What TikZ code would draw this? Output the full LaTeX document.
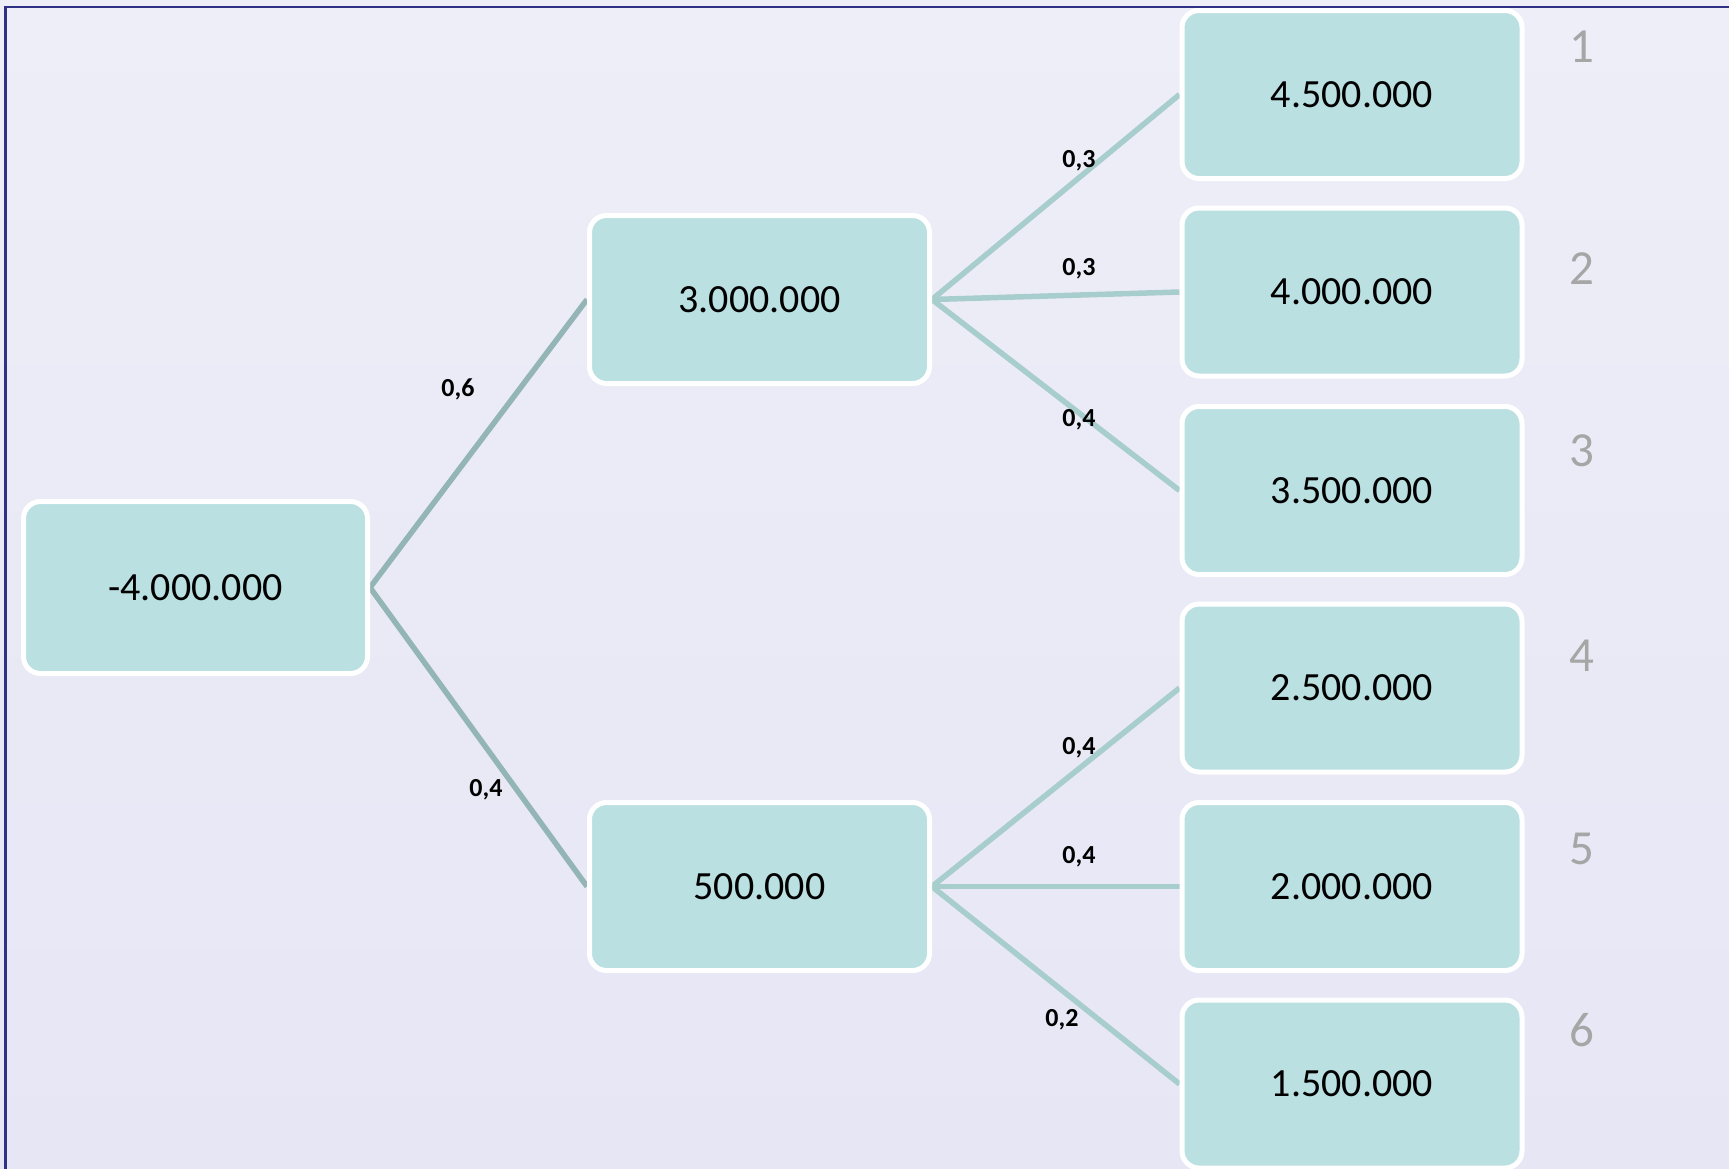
\documentclass[tikz,border=0pt]{standalone}
\usepackage{fontspec}
\setmainfont{Carlito}
\definecolor{boxfill}{HTML}{BAE0E2}
\definecolor{rootline}{HTML}{93B5B6}
\definecolor{branchline}{HTML}{A8CDCD}
\definecolor{numgray}{HTML}{A6A6A6}
\definecolor{framecol}{HTML}{2E3184}
\definecolor{bgtop}{HTML}{EEEEF8}
\definecolor{bgbot}{HTML}{E6E6F5}
\pgfdeclarelayer{bglayer}
\pgfdeclarelayer{linelayer}
\pgfsetlayers{bglayer,linelayer,main}
\begin{document}
\begin{tikzpicture}[x=1pt,y=-1pt,
  box/.style={draw=white, line width=5pt, fill=boxfill, rounded corners=17pt,
    minimum width=340pt, minimum height=168pt, inner sep=0pt,
    font=\fontsize{40}{48}\selectfont, text=black},
  rootbox/.style={box, minimum width=344pt, minimum height=172pt},
  lbl/.style={font=\bfseries\fontsize{26}{31}\selectfont, text=black, inner sep=0pt},
  num/.style={font=\fontsize{49}{58}\selectfont, text=numgray, inner sep=0pt},
  rline/.style={draw=rootline, line width=5.5pt},
  bline/.style={draw=branchline, line width=5.5pt},
  framestyle/.style={draw=framecol, line width=2.5pt}]
\useasboundingbox (0,0) rectangle (1729,1168);
\clip (0,0) rectangle (1729,1168);
\begin{pgfonlayer}{bglayer}
\shade[top color=bgtop, bottom color=bgbot] (0,0) rectangle (1729,1168);
\coordinate (fr1) at (5.5,1200);
\coordinate (fr2) at (5.5,7);
\coordinate (fr3) at (1760,7);
\draw[framestyle] (fr1) -- (fr2) -- (fr3);
\end{pgfonlayer}

% nodes
\node[rootbox] (root) at (195.5,587.5) {-4.000.000};
\node[box] (mt) at (759.5,299.5) {3.000.000};
\node[box] (mb) at (759.5,886.5) {500.000};
\node[box] (r1) at (1352,94.5) {4.500.000};
\node[box] (r2) at (1352,292) {4.000.000};
\node[box] (r3) at (1352,490.5) {3.500.000};
\node[box] (r4) at (1352,688) {2.500.000};
\node[box] (r5) at (1352,886.5) {2.000.000};
\node[box] (r6) at (1352,1084) {1.500.000};

% connectors (below the nodes)
\begin{pgfonlayer}{linelayer}
\draw[rline] (root.east) -- (mt.west);
\draw[rline] (root.east) -- (mb.west);
\draw[bline] (mt.east) -- (r1.west);
\draw[bline] (mt.east) -- (r2.west);
\draw[bline] (mt.east) -- (r3.west);
\draw[bline] (mb.east) -- (r4.west);
\draw[bline] (mb.east) -- (r5.west);
\draw[bline] (mb.east) -- (r6.west);
\end{pgfonlayer}

% probability labels
\node[lbl] (l1) at (458,389) {0,6};
\node[lbl] (l2) at (486,790) {0,4};
\node[lbl] (l3) at (1079,161) {0,3};
\node[lbl] (l4) at (1079,269) {0,3};
\node[lbl] (l5) at (1079,420) {0,4};
\node[lbl] (l6) at (1079,748) {0,4};
\node[lbl] (l7) at (1079,857) {0,4};
\node[lbl] (l8) at (1062,1020) {0,2};

% outcome numbers
\node[num] (n1) at (1582,47) {1};
\node[num] (n2) at (1582,269) {2};
\node[num] (n3) at (1582,451) {3};
\node[num] (n4) at (1582,656) {4};
\node[num] (n5) at (1582,849) {5};
\node[num] (n6) at (1582,1030) {6};
\end{tikzpicture}
\end{document}
